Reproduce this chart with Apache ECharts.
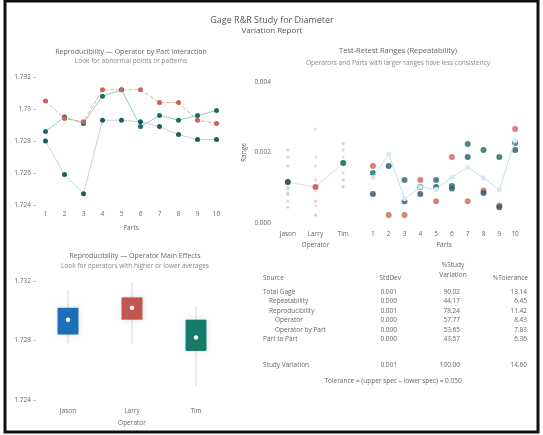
<!DOCTYPE html>
<html>
<head>
<meta charset="utf-8">
<script src="https://cdn.jsdelivr.net/npm/echarts@6/dist/echarts.min.js"></script>
<style>
  html, body { margin: 0; padding: 0; background: #fff; }
  #chart { width: 543px; height: 435px; }
</style>
</head>
<body>
<div id="chart"></div>
<script>
// ---- Data ---------------------------------------------------------------
const operators = ['Jason', 'Larry', 'Tim'];
const parts = ['1', '2', '3', '4', '5', '6', '7', '8', '9', '10'];

// Operator x part averages of Diameter
const avgJason = [1.7286, 1.7295, 1.7291, 1.7308, 1.7312, 1.7289, 1.7296, 1.7293, 1.7296, 1.7299];
const avgLarry = [1.7305, 1.7294, 1.7292, 1.7312, 1.7312, 1.7312, 1.7304, 1.7304, 1.7293, 1.7291];
const avgTim   = [1.7280, 1.7259, 1.7247, 1.7293, 1.7293, 1.7292, 1.7289, 1.7284, 1.7281, 1.7281];

// Test-retest ranges per operator and part
const rangeJason = [0.00082, 0.00162, 0.00062, 0.00082, 0.00102, 0.00098, 0.00187, 0.00085, 0.00045, 0.00207];
const rangeLarry = [0.00162, 0.00023, 0.00023, 0.00122, 0.00062, 0.00187, 0.00062, 0.00092, 0.00050, 0.00267];
const rangeTim   = [0.00142, 0.00403, 0.00122, 0.00102, 0.00122, 0.00105, 0.00224, 0.00207, 0.00187, 0.00227];
const partMeanRange = [0.00129, 0.00196, 0.00069, 0.00102, 0.00095, 0.00130, 0.00158, 0.00128, 0.00094, 0.00234];
const operatorMeanRange = [0.00116, 0.00102, 0.00170];

// Operator main effects: [low, box low, mean, box high, high]
const effectJason = [1.7278, 1.7284, 1.7294, 1.7302, 1.7314];
const effectLarry = [1.7278, 1.7294, 1.7302, 1.7309, 1.7319];
const effectTim   = [1.7249, 1.7273, 1.7282, 1.7294, 1.7303];

// Variance components table
const tableSource    = ['Total Gage', 'Repeatability', 'Reproducibility', 'Operator', 'Operator by Part', 'Part to Part', 'Study Variation'];
const tableIndent    = [0, 1, 1, 2, 2, 0, 0];
const tableStdDev    = ['0.001', '0.000', '0.001', '0.000', '0.000', '0.000', '0.001'];
const tableStudyVar  = ['90.02', '44.17', '78.24', '57.77', '53.65', '43.57', '100.00'];
const tableTolerance = ['13.14', '6.45', '11.42', '8.43', '7.83', '6.36', '14.60'];
const toleranceNote  = 'Tolerance = (upper spec \u2013 lower spec) = 0.050';

// ---- Styling ------------------------------------------------------------
const FONT = '"Open Sans", "DejaVu Sans", sans-serif';
const TXT = '#666';
const C_JASON = '#1f6fb8';
const C_LARRY = '#c0564f';
const C_TIM = '#157a68';

const chart = echarts.init(document.getElementById('chart'), null, { renderer: 'canvas' });

const axisLabel = { color: TXT, fontSize: 6.5, fontFamily: FONT };
const nameStyle = { color: TXT, fontSize: 6.5, fontFamily: FONT };

function t(x, y, text, opts) {
  return Object.assign({
    type: 'text', x: x, y: y,
    style: Object.assign({ text: text, fill: TXT, font: '7px ' + FONT, textAlign: 'center', textVerticalAlign: 'middle' }, opts || {})
  });
}

// Titles and table as text elements
const graphics = [
  { type: 'rect', shape: { x: 5, y: 1, width: 533, height: 431 }, style: { fill: 'none', stroke: '#111', lineWidth: 3 } },
  t(272, 20, 'Gage R&R Study for Diameter', { font: '9px ' + FONT, fill: '#555' }),
  t(272, 31, 'Variation Report', { font: '8px ' + FONT, fill: '#555' }),
  t(131, 52, 'Reproducibility \u2014 Operator by Part Interaction', { font: '7px ' + FONT }),
  t(131, 61, 'Look for abnormal points or patterns', { font: '6.5px ' + FONT, fill: '#888' }),
  t(398, 51, 'Test-Retest Ranges (Repeatability)', { font: '7.5px ' + FONT }),
  t(398, 63, 'Operators and Parts with larger ranges have less consistency', { font: '6.5px ' + FONT, fill: '#888' }),
  t(135, 256, 'Reproducibility \u2014 Operator Main Effects', { font: '7px ' + FONT }),
  t(135, 266, 'Look for operators with higher or lower averages', { font: '6.5px ' + FONT, fill: '#888' }),
  // table header
  t(263, 278, 'Source', { textAlign: 'left', font: '6.5px ' + FONT }),
  t(401, 278, 'StdDev', { textAlign: 'right', font: '6.5px ' + FONT }),
  t(453, 265, '%Study', { font: '6.5px ' + FONT }),
  t(453, 275, 'Variation', { font: '6.5px ' + FONT }),
  t(528, 278, '%Tolerance', { textAlign: 'right', font: '6.5px ' + FONT }),
  t(393, 381, toleranceNote, { font: '6.5px ' + FONT })
];
const rowY = [292, 301.5, 311, 320.5, 330, 339.5, 365];
tableSource.forEach(function (name, i) {
  const y = rowY[i];
  graphics.push(t(263 + tableIndent[i] * 6, y, name, { textAlign: 'left', font: '6.5px ' + FONT }));
  graphics.push(t(397, y, tableStdDev[i], { textAlign: 'right', font: '6.5px ' + FONT }));
  graphics.push(t(460, y, tableStudyVar[i], { textAlign: 'right', font: '6.5px ' + FONT }));
  graphics.push(t(527, y, tableTolerance[i], { textAlign: 'right', font: '6.5px ' + FONT }));
});

function pointsFor(values) {
  return values.map(function (v, i) { return [i, v]; });
}

const option = {
  backgroundColor: '#fff',
  animation: false,
  graphic: graphics,
  grid: [
    { left: 36, top: 77, width: 190, height: 128 },   // interaction
    { left: 36, top: 281, width: 192, height: 119 },  // main effects
    { left: 274, top: 82, width: 83, height: 141 },   // ranges by operator
    { left: 365, top: 82, width: 158, height: 141 }   // ranges by part
  ],
  xAxis: [
    { gridIndex: 0, type: 'category', data: parts, boundaryGap: true,
      axisLine: { show: false }, axisTick: { show: false }, axisLabel: Object.assign({ margin: 6 }, axisLabel),
      name: 'Parts', nameLocation: 'middle', nameGap: 20, nameTextStyle: nameStyle },
    { gridIndex: 1, type: 'category', data: operators, boundaryGap: true,
      axisLine: { show: false }, axisTick: { show: false }, axisLabel: Object.assign({ margin: 8 }, axisLabel),
      name: 'Operator', nameLocation: 'middle', nameGap: 20, nameTextStyle: nameStyle },
    { gridIndex: 2, type: 'category', data: operators, boundaryGap: true,
      axisLine: { show: false }, axisTick: { show: false }, axisLabel: Object.assign({ margin: 8 }, axisLabel),
      name: 'Operator', nameLocation: 'middle', nameGap: 19, nameTextStyle: nameStyle },
    { gridIndex: 3, type: 'category', data: parts, boundaryGap: true,
      axisLine: { show: false }, axisTick: { show: false }, axisLabel: Object.assign({ margin: 8 }, axisLabel),
      name: 'Parts', nameLocation: 'middle', nameGap: 19, nameTextStyle: nameStyle }
  ],
  yAxis: [
    { gridIndex: 0, type: 'value', min: 1.724, max: 1.732, interval: 0.002,
      axisLine: { show: false }, axisTick: { show: true, length: 3, lineStyle: { color: '#ccc' } },
      splitLine: { show: false }, axisLabel: Object.assign({ margin: 5 }, axisLabel) },
    { gridIndex: 1, type: 'value', min: 1.724, max: 1.732, interval: 0.004,
      axisLine: { show: false }, axisTick: { show: true, length: 3, lineStyle: { color: '#ccc' } },
      splitLine: { show: false }, axisLabel: Object.assign({ margin: 5 }, axisLabel) },
    { gridIndex: 2, type: 'value', min: 0, max: 0.004, interval: 0.002,
      axisLine: { show: false }, axisTick: { show: false }, splitLine: { show: false },
      axisLabel: Object.assign({ margin: 3, formatter: function (v) { return v.toFixed(3); } }, axisLabel),
      name: 'Range', nameLocation: 'middle', nameGap: 26, nameRotate: 90, nameTextStyle: nameStyle },
    { gridIndex: 3, type: 'value', min: 0, max: 0.004, interval: 0.002,
      axisLine: { show: false }, axisTick: { show: false }, splitLine: { show: false }, axisLabel: { show: false } }
  ],
  series: [
    // Operator by part interaction
    { type: 'line', xAxisIndex: 0, yAxisIndex: 0, data: pointsFor(avgTim),
      lineStyle: { color: '#c4d3dc', width: 1 }, symbol: 'circle', symbolSize: 5,
      itemStyle: { color: '#1d5e5a' } },
    { type: 'line', xAxisIndex: 0, yAxisIndex: 0, data: pointsFor(avgJason),
      lineStyle: { color: '#8fcfc4', width: 1 }, symbol: 'circle', symbolSize: 5,
      itemStyle: { color: '#1b6d64' } },
    { type: 'line', xAxisIndex: 0, yAxisIndex: 0, data: pointsFor(avgLarry),
      lineStyle: { color: '#eaa7a3', width: 1, type: 'dashed' }, symbol: 'circle', symbolSize: 5,
      itemStyle: { color: '#c9635d' } },

    // Operator main effects
    { type: 'custom', xAxisIndex: 1, yAxisIndex: 1,
      data: [[0].concat(effectJason), [1].concat(effectLarry), [2].concat(effectTim)],
      renderItem: function (params, api) {
        const idx = api.value(0);
        const colors = [C_JASON, C_LARRY, C_TIM];
        const lo = api.coord([idx, api.value(1)]);
        const q1 = api.coord([idx, api.value(2)]);
        const mid = api.coord([idx, api.value(3)]);
        const q3 = api.coord([idx, api.value(4)]);
        const hi = api.coord([idx, api.value(5)]);
        const w = 21;
        return {
          type: 'group',
          children: [
            { type: 'line', shape: { x1: lo[0], y1: lo[1], x2: hi[0], y2: hi[1] },
              style: { stroke: '#d8d8d8', lineWidth: 1 } },
            { type: 'rect', shape: { x: q3[0] - w / 2, y: q3[1], width: w, height: q1[1] - q3[1] },
              style: { fill: colors[idx], shadowBlur: 6, shadowColor: 'rgba(120,160,200,0.25)' } },
            { type: 'circle', shape: { cx: mid[0], cy: mid[1], r: 2.2 },
              style: { fill: '#fff' } }
          ]
        };
      } },

    // Ranges by operator: individual part ranges (faint) and averages
    { type: 'scatter', xAxisIndex: 2, yAxisIndex: 2, symbolSize: 3,
      data: pointsFor(rangeJason).map(function (p) { return [0, p[1]]; }),
      itemStyle: { color: '#c9cfd6' } },
    { type: 'scatter', xAxisIndex: 2, yAxisIndex: 2, symbolSize: 3,
      data: pointsFor(rangeLarry).map(function (p) { return [1, p[1]]; }),
      itemStyle: { color: '#ecc9c6' } },
    { type: 'scatter', xAxisIndex: 2, yAxisIndex: 2, symbolSize: 3,
      data: pointsFor(rangeTim).map(function (p) { return [2, p[1]]; }),
      itemStyle: { color: '#c6d8d4' } },
    { type: 'line', xAxisIndex: 2, yAxisIndex: 2, data: pointsFor(operatorMeanRange),
      lineStyle: { color: '#d6dde2', width: 1 }, symbol: 'circle', symbolSize: 6,
      itemStyle: { color: function (p) { return ['#3d5560', '#d06a64', '#2a7d6d'][p.dataIndex]; } } },

    // Ranges by part
    { type: 'line', xAxisIndex: 3, yAxisIndex: 3, data: pointsFor(partMeanRange),
      lineStyle: { color: '#bfe0e6', width: 1 }, symbol: 'circle', symbolSize: 5,
      itemStyle: { color: '#d5e9ee' } },
    { type: 'scatter', xAxisIndex: 3, yAxisIndex: 3, data: pointsFor(rangeLarry), symbolSize: 6,
      itemStyle: { color: '#d0625d' } },
    { type: 'scatter', xAxisIndex: 3, yAxisIndex: 3, data: pointsFor(rangeJason), symbolSize: 6,
      itemStyle: { color: '#27556a' } },
    { type: 'scatter', xAxisIndex: 3, yAxisIndex: 3, data: pointsFor(rangeTim), symbolSize: 6,
      itemStyle: { color: '#1e6a63' } }
  ]
};

chart.setOption(option);
</script>
</body>
</html>
